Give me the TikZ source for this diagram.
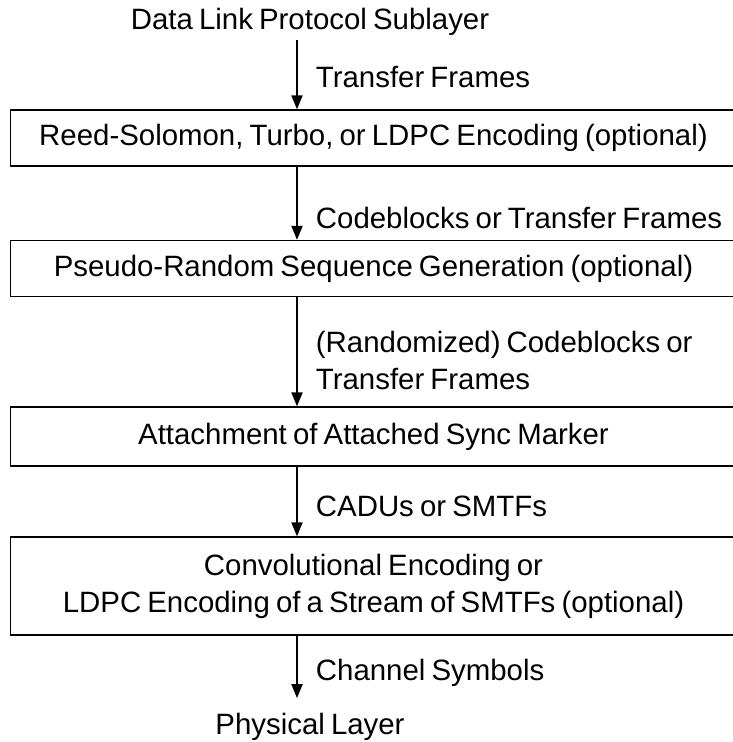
\documentclass[tikz,border=0pt]{standalone}
\usepackage{fontspec}
\setmainfont{Liberation Sans}[WordSpace=0.75]
\usepackage{tikz}
\usetikzlibrary{arrows.meta, positioning}

\begin{document}
\begin{tikzpicture}[x=1pt, y=-1pt]
            \tikzset{
                every node/.style={font=\fontsize{29.4}{37}\selectfont},
                layer_box/.style={draw, shape = rectangle, line width=1.3pt, minimum width=726pt, minimum height=56pt, inner sep=0pt, align=center},
                end_text/.style={inner sep=0pt},
                flow/.style={-{Triangle[length=14pt, width=11pt]}, line width=1.9pt},
                flow_label/.style={right, inner sep=0pt, xshift=18pt, align=left}
            }
            \useasboundingbox (0,0) rectangle (732,742);
            \coordinate (spine) at (297,0);
            \node[end_text] (dlps) at (310,22) {Data Link Protocol Sublayer};
            \node[layer_box] (rs) at (373.5,138) {Reed-Solomon, Turbo, or LDPC Encoding (optional)};
            \node[layer_box] (prsg) at (373.5,268.5) {Pseudo-Random Sequence Generation (optional)};
            \node[layer_box, minimum height=59pt] (asm) at (373.5,436.5) {Attachment of Attached Sync Marker};
            \node[layer_box, minimum height=98pt] (conv) at (373.5,586) {Convolutional Encoding or\\LDPC Encoding of a Stream of SMTFs (optional)};
            \node[end_text] (phys) at (310,727) {Physical Layer};

            \path (dlps.south -| spine) edge [flow, shorten <=4pt] node[flow_label, yshift=-4pt] {Transfer Frames} (rs.north -| spine);
            \path (rs.south -| spine) edge [flow] node[flow_label, yshift=-15pt] {Codeblocks or Transfer Frames} (prsg.north -| spine);
            \path (prsg.south -| spine) edge [flow] node[flow_label, yshift=-9pt] {(Randomized) Codeblocks or\\Transfer Frames} (asm.north -| spine);
            \path (asm.south -| spine) edge [flow] node[flow_label, yshift=-5pt] {CADUs or SMTFs} (conv.north -| spine);
            \path (conv.south -| spine) edge [flow, shorten >=15pt] node[flow_label, yshift=1pt] {Channel Symbols} (phys.north -| spine);
        \end{tikzpicture}
\end{document}
